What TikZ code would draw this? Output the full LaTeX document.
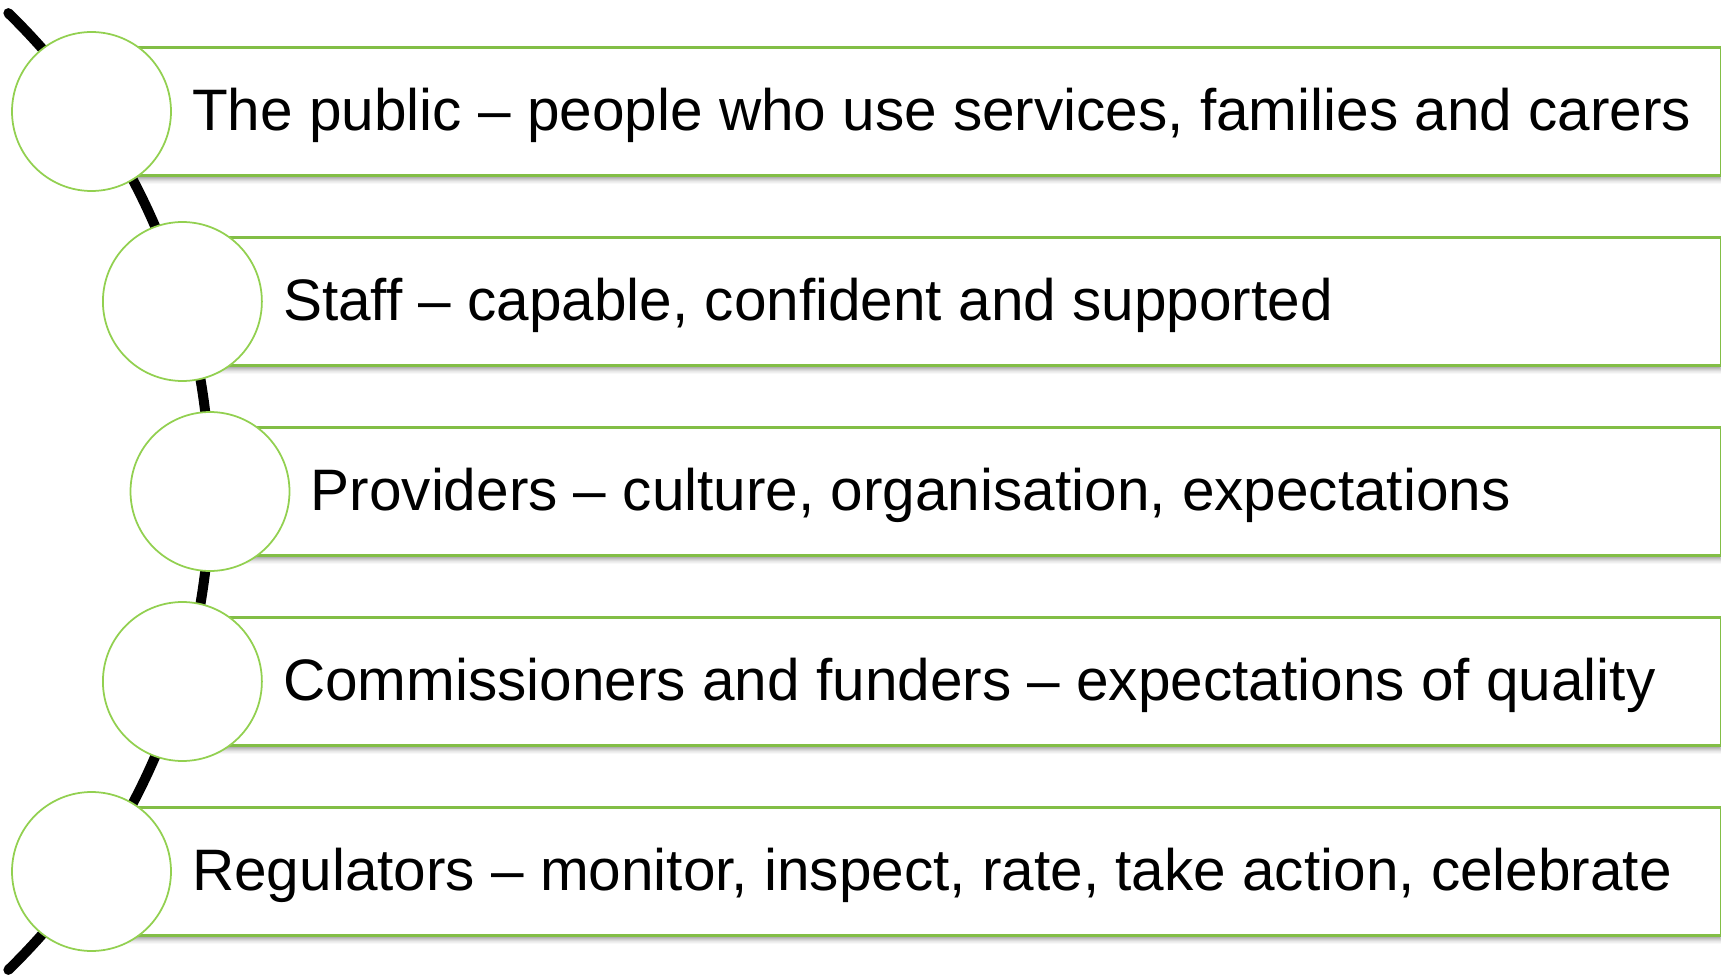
\documentclass[tikz,border=0pt]{standalone}
\usepackage{fontspec}
\setmainfont{Liberation Sans}
\usepackage{tikz}
\usetikzlibrary{positioning}
\usetikzlibrary{shapes,shadows.blur}
\definecolor{leafgreen}{RGB}{146,208,80}
\definecolor{boxgreen}{RGB}{130,190,70}
\tikzstyle{panel} = [rectangle, draw=boxgreen, line width=1.2pt, fill=white,
minimum height=2.56cm, anchor=west, inner sep=0pt,
blur shadow={shadow xshift=0cm, shadow yshift=-0.07cm, shadow blur radius=0.1cm, shadow opacity=45}]
\tikzstyle{bead} = [circle, draw=leafgreen, line width=1pt, fill=white, minimum size=3.18cm, inner sep=0pt]
\tikzstyle{caption} = [anchor=west, inner sep=0pt, text height=23.9pt, text depth=0pt,
font=\fontsize{33.3}{40}\selectfont]
\tikzstyle{spine} = [draw, line width=0.2cm, line cap=round]

\begin{document}
\begin{tikzpicture}[x=0.02cm, y=0.02cm]
    \useasboundingbox (0,0) rectangle (1721,975);
    % spine
    \coordinate (hub) at (-458.5,483.5);
    \draw [spine] (hub) ++(45.7:668.5) arc[start angle=45.7, end angle=-45.7, radius=668.5];

    % nodes
    \node [panel, minimum width=32.57cm] (public) at (91.5,863.5) {};
    \node [panel, minimum width=30.75cm] (staff) at (182.4,673.5) {};
    \node [panel, minimum width=30.2cm] (prov) at (210,483.5) {};
    \node [panel, minimum width=30.75cm] (comm) at (182.4,293.5) {};
    \node [panel, minimum width=32.57cm] (regul) at (91.5,103.5) {};

    \node [bead] (publicdot) at (public.west) {};
    \node [bead] (staffdot) at (staff.west) {};
    \node [bead] (provdot) at (prov.west) {};
    \node [bead] (commdot) at (comm.west) {};
    \node [bead] (reguldot) at (regul.west) {};

    % texts
    \node [caption, right=0.4cm of publicdot, yshift=0.04cm] (publictxt) {The public -- people who use services, families and carers};
    \node [caption, right=0.4cm of staffdot, yshift=0.04cm] (stafftxt) {Staff -- capable, confident and supported};
    \node [caption, right=0.4cm of provdot, yshift=0.04cm] (provtxt) {Providers -- culture, organisation, expectations};
    \node [caption, right=0.4cm of commdot, yshift=0.04cm] (commtxt) {Commissioners and funders -- expectations of quality};
    \node [caption, right=0.4cm of reguldot, yshift=0.04cm] (regultxt) {Regulators -- monitor, inspect, rate, take action, celebrate};
\end{tikzpicture}
\end{document}
